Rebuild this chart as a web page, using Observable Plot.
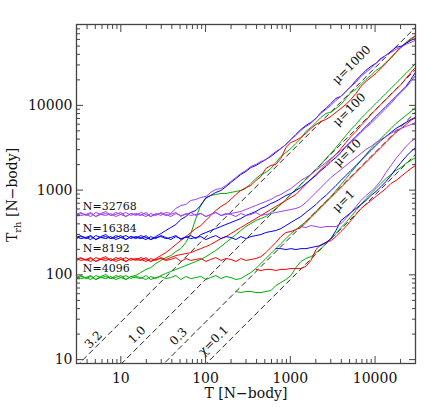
<!DOCTYPE html>
<html><head><meta charset="utf-8">
<script src="https://cdn.jsdelivr.net/npm/d3@7"></script>
<script src="https://cdn.jsdelivr.net/npm/@observablehq/plot@0.6"></script>
<style>html,body{margin:0;padding:0;background:#fff}#chart{width:436px;height:415px}</style>
</head><body><div id="chart"></div>
<script>
// Time axis samples [N-body units]
const T = [3,3.37,3.86,4.42,5.07,5.8,6.65,7.62,8.73,10,11.5,13.1,15,17.2,19.8,22.6,25.9,29.7,34,38.9,44.6,51.1,58.5,67,76.8,88,101,115,132,152,174,199,228,261,299,343,393,450,515,590,676,775,888,1017,1165,1335,1530,1752,2007,2300,2635,3018,3458,3962,4540,5200,5958,6826,7820,8960,10270,11760,13470,15440,17690,20260,23220,26600,30000];
const pad = n => Array(n).fill(null);

// mu = 1000 runs
const P1000 = [516,545,502,530,488,530,560,502,516,545,488,530,502,545,516,488,530,502,545,530,607,659,677,755,776,819,842,939,1020,1045,1135,1265,1410,1570,1707,1900,2010,2180,2300,2570,2860,3100,3460,3960,4420,5070,5640,6120,7020,8040,8970,10000,11460,12770,14630,16770,18700,22000,24600,27400,31400,35000,39000,42300,45900,48500,52600,55500,58600];
const B1000 = [276,291,268,283,261,283,299,268,276,291,261,283,268,291,276,261,283,307,334,362,393,450,488,545,575,659,819,865,939,991,1100,1230,1370,1530,1660,1850,1955,2120,2300,2500,2780,3100,3460,3960,4540,5200,5800,6290,7020,8270,9220,10560,12090,12770,14630,16770,19740,22600,25900,28900,31400,35900,39000,43500,48500,49800,54000,58600,61800];
const R1000 = [152,160,148,156,144,156,164,148,152,160,144,156,148,160,152,144,156,169,183,204,228,254,283,316,352,382,438,502,575,641,696,776,889,991,1075,1135,1300,1450,1800,1955,2010,2370,3190,3650,3860,4190,4670,5340,5960,6470,6830,7410,8270,9220,10270,11770,13860,16770,19200,21400,23900,27400,31400,36900,42300,48500,54000,60200,67100];
const G1000 = [93,98.3,90.5,95.6,88.1,95.6,101,90.5,93,98.3,88.1,95.6,98.3,106.6,116,122,136,148,160,169,188,204,241,307,462,677,797,865,889,913,913,939,965,991,1045,1200,1370,1530,1620,1800,2120,2500,2780,3100,3560,4070,4930,5490,6290,7210,8040,8270,9220,10270,12090,14240,15450,17700,20300,22600,25900,28100,32200,35900,42300,48500,55500,61800,65300];

// mu = 100 runs
const P100 = [502,530,516,488,545,516,502,530,488,516,545,502,530,516,488,530,502,545,516,488,530,502,516,545,502,530,488,516,545,502,516,530,545,560,591,624,659,696,735,776,842,889,965,1045,1165,1300,1410,1530,1707,1900,2120,2370,2640,2940,3280,3650,4190,4800,5490,6120,7020,8040,9220,10560,12430,14240,16320,19200,22600];
const B100 = [268,283,276,261,291,276,268,283,261,276,291,268,283,276,261,283,268,291,276,261,283,268,276,291,268,299,316,334,352,372,393,415,438,462,502,530,560,607,641,696,735,797,865,913,991,1075,1200,1340,1490,1707,1900,2180,2430,2780,3280,3750,4300,4930,5640,6470,7410,8490,9730,11150,12770,14630,16770,20300,24600];
const R100 = [148,156,152,144,160,152,148,156,144,152,160,148,156,152,144,156,148,160,152,160,169,174,178,183,194,204,216,228,247,268,283,307,334,362,393,426,462,502,545,591,641,696,755,819,889,1020,1165,1340,1530,1750,2010,2300,2640,3100,3650,4300,4930,5800,6650,7830,8970,10270,11770,13490,15450,17700,20900,24600,28100];
const G100 = [90.5,95.6,93,88.1,98.3,93,90.5,95.6,88.1,93,98.3,90.5,95.6,93,88.1,95.6,90.5,98.3,103.8,109.6,116,122,129,136,144,152,164,178,194,216,241,268,299,334,372,404,438,462,488,545,607,677,776,889,1020,1165,1340,1530,1750,2010,2370,2710,3190,3750,4420,5200,5960,7020,8040,9220,10560,12090,13860,15880,18200,20900,23900,27400,31400];

// mu = 10 runs
const P10 = [530,502,516,545,488,516,530,502,545,516,488,530,516,502,545,488,516,530,502,516,545,488,530,502,516,530,488,516,545,502,530,516,488,530,502,516,545,502,516,530,545,560,575,591,607,641,715,819,939,1075,1230,1410,1570,1750,1955,2180,2430,2710,3020,3280,3650,3960,4300,4670,5070,5340,5640,5960,6290];
const B10 = [283,268,276,291,261,276,283,268,291,276,261,283,276,268,291,261,276,283,268,276,291,261,283,268,276,283,261,276,291,268,283,276,261,283,268,283,291,299,316,325,334,352,382,415,450,488,545,607,677,776,865,991,1135,1300,1490,1707,1955,2240,2570,2940,3370,3860,4300,4800,5340,5800,6290,6830,7210];
const R10 = [156,148,152,160,144,152,156,148,160,152,144,156,152,148,160,144,152,156,148,152,160,144,156,148,152,156,144,152,160,148,156,152,144,156,148,152,156,164,183,210,241,283,316,325,343,362,415,475,545,624,715,819,939,1075,1230,1410,1620,1850,2120,2430,2780,3190,3650,4190,4800,5340,5960,6650,7210];
const G10 = [95.6,90.5,93,98.3,88.1,93,95.6,90.5,98.3,93,88.1,95.6,93,90.5,98.3,88.1,93,95.6,90.5,93,98.3,88.1,95.6,90.5,93,95.6,88.1,93,98.3,90.5,95.6,93,88.1,90.5,98.3,106.6,119,136,156,178,204,234,268,307,343,382,426,488,560,641,735,842,991,1165,1370,1620,1900,2240,2640,3100,3560,4070,4670,5340,6120,6830,7620,8490,9470];

// mu = 1 runs (start later)
const P1 = [...pad(45),372,362,382,372,362,372,372,372,404,462,545,641,755,865,965,1100,1300,1620,1955,2370,2780,3280,3750,4070];
const B1 = [...pad(40),204,204,199,204,199,204,204,210,216,222,241,268,334,438,488,545,607,677,755,865,965,1100,1265,1490,1800,2120,2500,2860,3190];
const R1 = [...pad(36),116,112.6,116,116,112.6,116,116,119,119,119,126,148,199,228,241,254,283,325,372,438,516,607,677,755,842,939,1045,1200,1300,1450,1620,1800,1955];
const G1 = [...pad(32),63.6,61.9,63.6,63.6,61.9,61.9,63.6,65.3,74.9,81.2,88.1,98.3,122,144,156,164,183,204,234,268,307,362,415,488,575,677,797,913,1045,1200,1370,1530,1707,1850,2070,2240,2430];

// reference (dashed) lines: Trh at T=3 and at T=30000
const refT = [3, 30000];
const refStart = [8.34, 2.64, 0.834, 0.264];
const refEnd = [83400, 26400, 8340, 2640];
const chiText = ["3.2", "1.0", "0.3", "χ=0.1"];
const chiT = [4.76, 15.5, 48, 124];
const chiTrh = [17.1, 19.6, 18.7, 16.7];
const muText = ["μ=1000", "μ=100", "μ=10", "μ=1"];
const muT = [5280, 4970, 4730, 4250];
const muTrh = [30100, 8920, 2750, 744];

const nText = ["N=32768", "N=16384", "N=8192", "N=4096"];
const nTrh = [646, 355, 206, 119];
const nT = 3.56;

const majorX = [10, 100, 1000, 10000];
const minorX = [4,5,6,7,8,9,20,30,40,50,60,70,80,90,200,300,400,500,600,700,800,900,2000,3000,4000,5000,6000,7000,8000,9000,20000];
const majorY = [10, 100, 1000, 10000];
const minorY = [20,30,40,50,60,70,80,90,200,300,400,500,600,700,800,900,2000,3000,4000,5000,6000,7000,8000,9000,20000,30000,40000,50000,60000,70000,80000];

const PURPLE = "#a040f0", BLUE = "#0000ff", RED = "#ff0000", GREEN = "#00b000";
const series = [
  [G1000, GREEN], [G100, GREEN], [G10, GREEN], [G1, GREEN],
  [R1000, RED], [R100, RED], [R10, RED], [R1, RED],
  [B1000, BLUE], [B100, BLUE], [B10, BLUE], [B1, BLUE],
  [P1000, PURPLE], [P100, PURPLE], [P10, PURPLE], [P1, PURPLE]
];
const toRows = vals => vals.map((v, i) => ({T: T[i], Trh: v})).filter(d => d.Trh != null);

const refRows = refStart.map((s, i) => [{T: refT[0], Trh: s}, {T: refT[1], Trh: refEnd[i]}]);
const FONT = "DejaVu Serif";
const AX = "#444";

const marks = [];
refRows.forEach(r => marks.push(Plot.line(r, {x: "T", y: "Trh", stroke: "#111", strokeWidth: 0.9, strokeDasharray: "5,4", clip: true})));
series.forEach(([vals, c]) => marks.push(Plot.line(toRows(vals), {x: "T", y: "Trh", stroke: c, strokeWidth: 1, clip: true})));

marks.push(
  Plot.text(chiText.map((t, i) => ({t, T: chiT[i], Trh: chiTrh[i]})), {x: "T", y: "Trh", text: "t", rotate: -45, fontSize: 12, fontFamily: FONT, fill: "#111"}),
  Plot.text(muText.map((t, i) => ({t, T: muT[i], Trh: muTrh[i]})), {x: "T", y: "Trh", text: "t", rotate: -45, fontSize: 12, fontFamily: FONT, fill: "#111"}),
  Plot.text(nText.map((t, i) => ({t, T: nT, Trh: nTrh[i]})), {x: "T", y: "Trh", text: "t", textAnchor: "start", fontSize: 11, fontFamily: FONT, fill: "#111"}),
  Plot.frame({stroke: AX, strokeWidth: 1.3}),
  // inward ticks on all four sides
  Plot.axisX(majorX, {anchor: "bottom", tickSize: -7, tickFormat: () => "", label: null, stroke: AX}),
  Plot.axisX(minorX, {anchor: "bottom", tickSize: -4, tickFormat: () => "", label: null, stroke: AX}),
  Plot.axisX(majorX, {anchor: "top", tickSize: -7, tickFormat: () => "", label: null, stroke: AX}),
  Plot.axisX(minorX, {anchor: "top", tickSize: -4, tickFormat: () => "", label: null, stroke: AX}),
  Plot.axisY(majorY, {anchor: "left", tickSize: -7, tickFormat: () => "", label: null, stroke: AX}),
  Plot.axisY(minorY, {anchor: "left", tickSize: -4, tickFormat: () => "", label: null, stroke: AX}),
  Plot.axisY(majorY, {anchor: "right", tickSize: -7, tickFormat: () => "", label: null, stroke: AX}),
  Plot.axisY(minorY, {anchor: "right", tickSize: -4, tickFormat: () => "", label: null, stroke: AX}),
  // tick labels
  Plot.axisX(majorX, {anchor: "bottom", tickSize: 0, tickPadding: 10, tickFormat: d => String(d), label: null, fontSize: 14, fontFamily: FONT}),
  Plot.axisY(majorY, {anchor: "left", tickSize: 0, tickPadding: 4, tickFormat: d => String(d), label: null, fontSize: 14, fontFamily: FONT}),
  Plot.text(["T [N−body]"], {frameAnchor: "bottom", dy: 34, text: d => d, fontSize: 14, fontFamily: FONT, fill: "#111"})
);

const chart = Plot.plot({
  width: 436, height: 415,
  marginLeft: 76, marginRight: 21, marginTop: 24, marginBottom: 52,
  x: {type: "log", domain: [3, 30000], label: null},
  y: {type: "log", domain: [9, 90000], label: null},
  style: {fontFamily: FONT, fontSize: "14px", color: "#111", background: "#fff"},
  marks
});

const ylab = d3.select(chart).append("text")
  .attr("transform", "translate(17,195) rotate(-90)")
  .attr("text-anchor", "middle")
  .attr("font-family", FONT).attr("font-size", 14).attr("fill", "#111");
ylab.append("tspan").text("T");
ylab.append("tspan").attr("dy", 4).attr("font-size", 10).text("rh");
ylab.append("tspan").attr("dy", -4).text(" [N−body]");

document.getElementById("chart").appendChild(chart);
</script>
</body></html>
